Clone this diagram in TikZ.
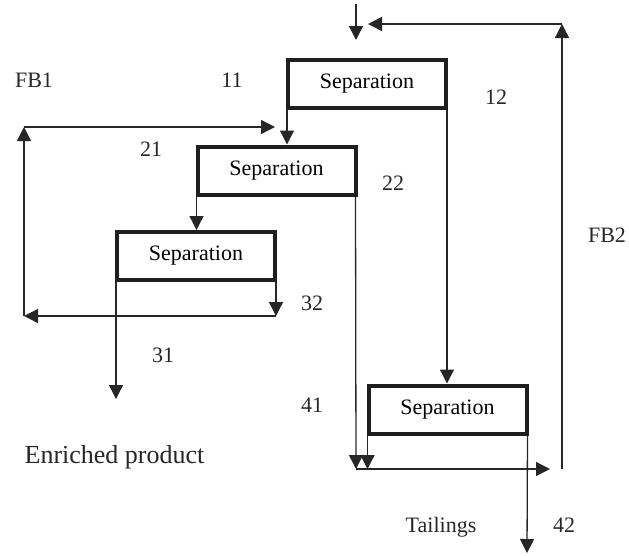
\documentclass[tikz,border=0pt]{standalone}
\usepackage{fontspec}
\setmainfont{Liberation Serif}
\usetikzlibrary{arrows.meta}
\begin{document}
\begin{tikzpicture}[x=1pt,y=-1pt,
  sepbox/.style={draw=black!88,line width=4pt,minimum width=158pt,minimum height=48pt,inner sep=0pt,font=\fontsize{22}{26}\selectfont},
  lbl/.style={anchor=base,inner sep=0pt,font=\fontsize{22}{26}\selectfont,text=black!85},
  arr/.style={draw=black!85,line width=1.3pt,-{Triangle[length=14pt,width=14pt]}},
  ln/.style={draw=black!85,line width=1.3pt}]
\useasboundingbox (0,0) rectangle (629,555);
% boxes
\node[sepbox] (b1) at (367,84) {Separation};
\node[sepbox] (b2) at (276.5,170.5) {Separation};
\node[sepbox] (b3) at (196,256) {Separation};
\node[sepbox] (b4) at (447.5,409.5) {Separation};
% coordinates
\coordinate (in0) at (356,4);
\coordinate (in1) at (356,40);
\coordinate (fb2b) at (562,469);
\coordinate (fb2t) at (562,24);
\coordinate (fb2e) at (368,24);
\coordinate (fb1b) at (24,316);
\coordinate (fb1t) at (24,127);
\coordinate (fb1e) at (275,127);
\coordinate (j1) at (356,469);
\coordinate (j1e) at (550,469);
\coordinate (c32) at (276,316);
\coordinate (out31) at (116,399);
\coordinate (out42) at (527,553);
% connectors
\draw[arr] (in0) -- (in1);
\draw[arr] (fb2b) -- (fb2t);
\draw[arr] (fb2t) -- (fb2e);
\draw[arr] ([xshift=1pt]b1.south west) -- ([xshift=1pt]b1.south west |- b2.north);
\draw[arr] ([xshift=-1pt]b1.south east) -- ([xshift=-1pt]b1.south east |- b4.north);
\draw[arr] (fb1b) -- (fb1t);
\draw[arr] (fb1t) -- (fb1e);
\draw[arr] ([xshift=1pt]b2.south west) -- ([xshift=1pt]b2.south west |- b3.north);
\draw[arr] ([xshift=-2pt]b2.south east) -- (j1);
\draw[arr] (j1) -- (j1e);
\draw[arr] ([xshift=1pt]b4.south west) -- ([xshift=1pt]b4.south west |- j1);
\draw[arr] ([xshift=-1pt]b4.south east) -- (out42);
\draw[arr] ([xshift=-1pt]b3.south east) -- (c32);
\draw[arr] (c32) -- (fb1b);
\draw[arr] ([xshift=1pt]b3.south west) -- (out31);
% labels
\node[lbl] (lfb1) at (34,87) {FB1};
\node[lbl] (l11) at (232,87) {11};
\node[lbl] (l12) at (496,104) {12};
\node[lbl] (l21) at (151,156) {21};
\node[lbl] (l22) at (393,190) {22};
\node[lbl] (lfb2) at (607,242) {FB2};
\node[lbl] (l32) at (312,310) {32};
\node[lbl] (l31) at (163,362) {31};
\node[lbl] (l41) at (312,412) {41};
\node[lbl,font=\fontsize{26}{30}\selectfont] (lep) at (114.5,463) {Enriched product};
\node[lbl] (ltail) at (441,532) {Tailings};
\node[lbl] (l42) at (564,532) {42};
\end{tikzpicture}
\end{document}
